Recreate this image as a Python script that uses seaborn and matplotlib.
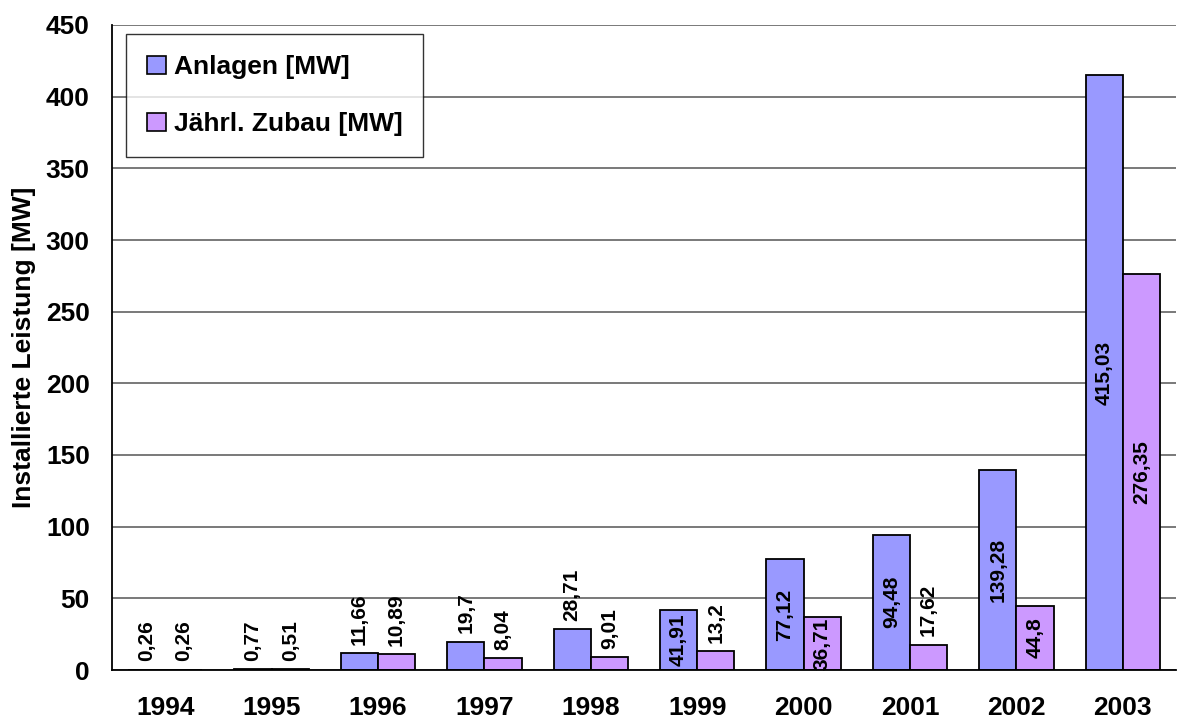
import numpy as np
import pandas as pd
import matplotlib
matplotlib.use("Agg")
import matplotlib.pyplot as plt
import seaborn as sns

# ---- data ----
jahre = ["1994", "1995", "1996", "1997", "1998", "1999", "2000", "2001", "2002", "2003"]
anlagen = [0.26, 0.77, 11.66, 19.7, 28.71, 41.91, 77.12, 94.48, 139.28, 415.03]
zubau = [0.26, 0.51, 10.89, 8.04, 9.01, 13.2, 36.71, 17.62, 44.8, 276.35]
serien = ["Anlagen [MW]", "Jährl. Zubau [MW]"]
farben = ["#9999FF", "#CC99FF"]
y_ticks = [0, 50, 100, 150, 200, 250, 300, 350, 400, 450]

sns.set_style("white")
plt.rcParams["font.family"] = ["Liberation Sans", "DejaVu Sans"]
plt.rcParams["font.weight"] = "bold"
for k in ["text.color", "axes.labelcolor", "xtick.color", "ytick.color"]:
    plt.rcParams[k] = "black"

df = pd.DataFrame({
    "Jahr": jahre * 2,
    "Wert": anlagen + zubau,
    "Serie": [serien[0]] * len(jahre) + [serien[1]] * len(jahre),
})

fig = plt.figure(figsize=(11.78, 7.21), dpi=100)
ax = fig.add_axes([112 / 1178, 51 / 721, (1176 - 112) / 1178, (670 - 25) / 721])

sns.barplot(data=df, x="Jahr", y="Wert", hue="Serie", palette=farben,
            edgecolor="black", linewidth=1.3, width=0.7, errorbar=None,
            ax=ax, saturation=1)

ax.set_ylim(0, 450)
ax.set_xlim(-0.5, len(jahre) - 0.5)
ax.set_yticks(y_ticks)
ax.set_yticklabels([str(v) for v in y_ticks], fontsize=19, fontweight="bold")
ax.set_xticks(range(len(jahre)))
ax.set_xticklabels(jahre, fontsize=19, fontweight="bold")
ax.set_xticks(np.arange(-0.5, len(jahre), 1), minor=True)
ax.tick_params(axis="x", which="major", length=0, pad=19)
ax.tick_params(axis="x", which="minor", length=6, width=1.2, direction="out", color="black")
ax.tick_params(axis="y", which="major", length=6, width=1.2, direction="out", color="black", pad=10)
ax.set_xlabel("")
ax.set_ylabel("Installierte Leistung [MW]", fontsize=19, fontweight="bold", labelpad=7)

ax.yaxis.grid(True, color="#555555", linewidth=1.1)
ax.set_axisbelow(True)
for s in ["top", "right"]:
    ax.spines[s].set_visible(False)
for s in ["left", "bottom"]:
    ax.spines[s].set_color("black")
    ax.spines[s].set_linewidth(1.3)

# data labels
for cont, vals in zip(ax.containers, [anlagen, zubau]):
    texte = [str(v).replace(".", ",") for v in vals]
    innen = [t if v > 32 else "" for t, v in zip(texte, vals)]
    aussen = [t if v <= 32 else "" for t, v in zip(texte, vals)]
    ax.bar_label(cont, labels=innen, label_type="center", rotation=90,
                 fontsize=15, fontweight="bold", color="black")
    ax.bar_label(cont, labels=aussen, label_type="edge", rotation=90,
                 fontsize=15, fontweight="bold", padding=6, color="black")

handles, labels = ax.get_legend_handles_labels()
leg = ax.legend(handles, labels, loc="upper left",
                bbox_to_anchor=(14 / 1064, 1 - 9 / 645), borderaxespad=0,
                frameon=True, fancybox=False, edgecolor="black",
                prop={"size": 19, "weight": "bold"}, handlelength=0.7,
                handleheight=0.7, handletextpad=0.3, labelspacing=1.25,
                borderpad=0.8)
leg.get_frame().set_linewidth(1.0)
for h in leg.legend_handles:
    h.set_edgecolor("black")
    h.set_linewidth(1.2)

fig.savefig("out.png", dpi=100)
